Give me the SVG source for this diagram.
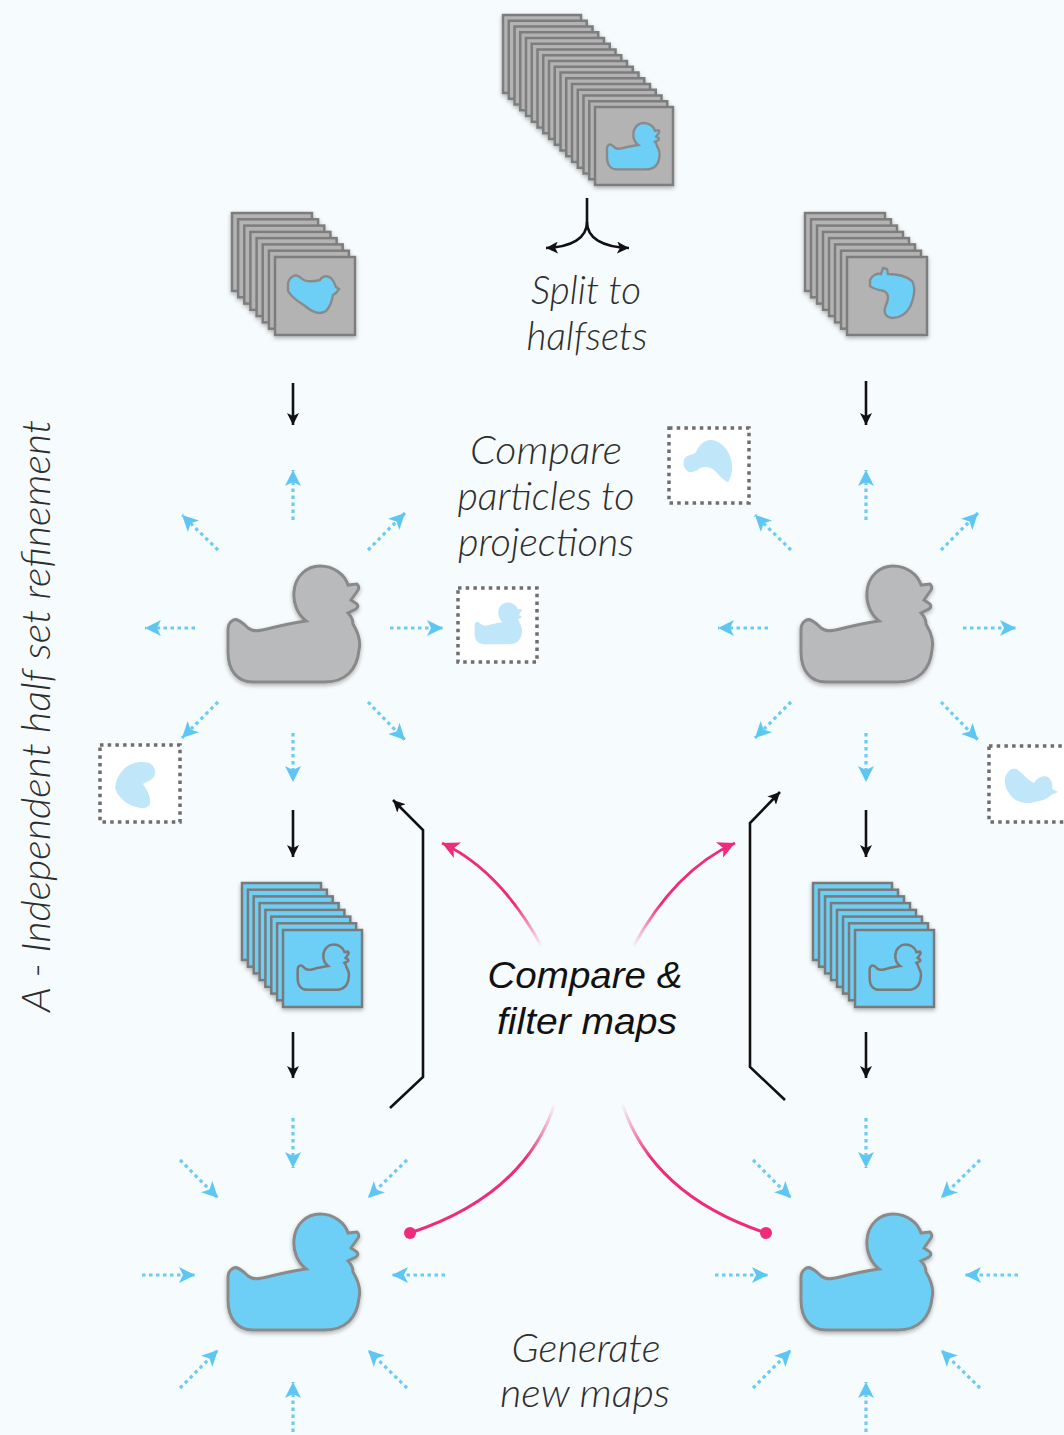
<svg xmlns="http://www.w3.org/2000/svg" xmlns:xlink="http://www.w3.org/1999/xlink" width="1064" height="1435" viewBox="0 0 1064 1435">
  <style>
    .lt { font-family: Lato, "Liberation Sans", sans-serif; font-style: italic; font-weight: 300; font-size: 39px; fill: #2e2e2e; text-anchor: middle; }
    .bd { font-family: "Liberation Sans", Arial, sans-serif; font-style: italic; font-weight: 400; font-size: 37px; fill: #111; text-anchor: middle; }
    .gcard { fill: #b3b3b3; stroke: #7d7d7d; stroke-width: 2.5; }
    .bcard { fill: #6dcff6; stroke: #7a7a7a; stroke-width: 2.5; }
    .proj { fill: #ffffff; stroke: #6e6e6e; stroke-width: 3.5; stroke-dasharray: 3.5 4.2; }
    .blob { fill: #bfe6f9; }
    .dot { fill: none; stroke: #6ccbf3; stroke-width: 3.2; stroke-dasharray: 3.5 3.5; marker-end: url(#bhead); }
    .blk { fill: none; stroke: #111; stroke-width: 2.6; marker-end: url(#khead); }
    .pink { fill: none; stroke-width: 3; }
  </style>
  <defs>
    <!-- rubber duck outline, centred on 0,0, about 130 x 116 -->
    <path id="duck" d="M -61,-5 C -57,-9 -51,-4 -45,2 C -40,6 -34,5 -26,3 C -14,0 -2,-3 13,-5 C 4,-12 0,-24 1,-34 C 2,-50 14,-60 27,-60 C 41,-60 52,-51 55,-41 L 64,-42 Q 67,-39 65,-36 L 58,-26 L 64,-22 Q 66,-19 63,-17 L 55,-13 C 58,-10 60,-6 60,-2 C 66,8 68,16 66,24 C 64,44 52,56 32,56 L -40,56 C -56,56 -65,44 -65,26 L -65,4 C -65,-1 -64,-3 -61,-5 Z"/>
    <rect id="gc" class="gcard" width="78" height="78"/>
    <rect id="gc2" class="gcard" width="80" height="78"/>
    <rect id="bc" class="bcard" width="79" height="77"/>
    <filter id="shadow" x="-20%" y="-20%" width="140%" height="150%">
      <feDropShadow dx="0" dy="2" stdDeviation="2" flood-color="#000" flood-opacity="0.3"/>
    </filter>
    <marker id="bhead" viewBox="0 0 16 16" refX="16" refY="8" markerWidth="16" markerHeight="16" markerUnits="userSpaceOnUse" orient="auto">
      <path d="M0,0 L16,8 L0,16 L4,8 Z" fill="#5ec6f2"/>
    </marker>
    <marker id="khead" viewBox="0 0 12 12" refX="12" refY="6" markerWidth="12" markerHeight="12" markerUnits="userSpaceOnUse" orient="auto">
      <path d="M0,0 L12,6 L0,12 L3,6 Z" fill="#111"/>
    </marker>
    <marker id="phead" viewBox="0 0 16 16" refX="16" refY="8" markerWidth="17" markerHeight="17" markerUnits="userSpaceOnUse" orient="auto">
      <path d="M0,0 L16,8 L0,16 L4,8 Z" fill="#ee2c7c"/>
    </marker>
    <linearGradient id="pg1" gradientUnits="userSpaceOnUse" x1="542" y1="947" x2="442" y2="843">
      <stop offset="0" stop-color="#ee2c7c" stop-opacity="0"/>
      <stop offset="0.35" stop-color="#ee2c7c" stop-opacity="1"/>
    </linearGradient>
    <linearGradient id="pg2" gradientUnits="userSpaceOnUse" x1="633" y1="947" x2="735" y2="843">
      <stop offset="0" stop-color="#ee2c7c" stop-opacity="0"/>
      <stop offset="0.35" stop-color="#ee2c7c" stop-opacity="1"/>
    </linearGradient>
    <linearGradient id="pg3" gradientUnits="userSpaceOnUse" x1="555" y1="1103" x2="410" y2="1233">
      <stop offset="0" stop-color="#ee2c7c" stop-opacity="0"/>
      <stop offset="0.3" stop-color="#ee2c7c" stop-opacity="1"/>
    </linearGradient>
    <linearGradient id="pg4" gradientUnits="userSpaceOnUse" x1="622" y1="1103" x2="766" y2="1233">
      <stop offset="0" stop-color="#ee2c7c" stop-opacity="0"/>
      <stop offset="0.3" stop-color="#ee2c7c" stop-opacity="1"/>
    </linearGradient>
  </defs>

  <rect width="1064" height="1435" fill="#f6fbfd"/>

  <!-- full particle set -->
  <g id="stack-all" filter="url(#shadow)">
    <use href="#gc" x="503" y="15"/><use href="#gc" x="508.75" y="20.75"/><use href="#gc" x="514.5" y="26.5"/>
    <use href="#gc" x="520.25" y="32.25"/><use href="#gc" x="526" y="38"/><use href="#gc" x="531.75" y="43.75"/>
    <use href="#gc" x="537.5" y="49.5"/><use href="#gc" x="543.25" y="55.25"/><use href="#gc" x="549" y="61"/>
    <use href="#gc" x="554.75" y="66.75"/><use href="#gc" x="560.5" y="72.5"/><use href="#gc" x="566.25" y="78.25"/>
    <use href="#gc" x="572" y="84"/><use href="#gc" x="577.75" y="89.75"/><use href="#gc" x="583.5" y="95.5"/>
    <use href="#gc" x="589.25" y="101.25"/><use href="#gc" x="595" y="107"/>
    <use href="#duck" transform="translate(633 147) scale(0.4)" fill="#6dcff6" stroke="#8a8a8a" stroke-width="6"/>
  </g>

  <!-- left half set -->
  <g id="stack-left" filter="url(#shadow)">
    <use href="#gc2" x="232" y="213"/><use href="#gc2" x="238.1" y="219.3"/><use href="#gc2" x="244.3" y="225.6"/>
    <use href="#gc2" x="250.4" y="231.9"/><use href="#gc2" x="256.6" y="238.1"/><use href="#gc2" x="262.7" y="244.4"/>
    <use href="#gc2" x="268.9" y="250.7"/><use href="#gc2" x="275" y="257"/>
    <path d="M288,283 C290,276 296,273 301,278 C305,282 312,282 320,280 C322,276 327,275 331,278 C334,281 335,284 336,287 L339,289 L336,293 L333,295 C332,301 331,306 326,311 C320,315 312,312 305,306 C299,302 292,298 288,291 Z" fill="#6dcff6" stroke="#8a8a8a" stroke-width="2.4"/>
  </g>

  <!-- right half set -->
  <g id="stack-right" filter="url(#shadow)">
    <use href="#gc2" x="805" y="213"/><use href="#gc2" x="811" y="219.3"/><use href="#gc2" x="817" y="225.6"/>
    <use href="#gc2" x="823" y="231.9"/><use href="#gc2" x="829" y="238.1"/><use href="#gc2" x="835" y="244.4"/>
    <use href="#gc2" x="841" y="250.7"/><use href="#gc2" x="847" y="257"/>
    <path d="M870,280 C872,275 877,273 881,274 L883,268 L887,269 L888,274 C896,274 906,276 912,281 C916,288 914,298 910,307 C906,314 899,318 892,318 C885,317 883,312 886,305 C889,298 888,293 884,291 C879,290 873,289 870,286 Z" fill="#6dcff6" stroke="#8a8a8a" stroke-width="2.4"/>
  </g>

  <!-- current reference maps -->
  <g id="map-left" filter="url(#shadow)">
    <use href="#duck" transform="translate(293 626)" fill="#b9babc" stroke="#898989" stroke-width="3"/>
  </g>
  <g id="map-right" filter="url(#shadow)">
    <use href="#duck" transform="translate(866 626)" fill="#b9babc" stroke="#898989" stroke-width="3"/>
  </g>

  <!-- projections -->
  <g id="proj-1">
    <rect class="proj" x="458" y="588" width="79" height="74"/>
    <use href="#duck" class="blob" transform="translate(498 624) scale(0.36)"/>
  </g>
  <g id="proj-2">
    <rect class="proj" x="100" y="745" width="80" height="77"/>
    <path class="blob" d="M115,788 C116,779 120,772 126,767 C133,762 142,761 149,763 C155,766 157,773 153,778 C150,781 145,782 143,784 C147,790 151,797 150,804 C148,809 141,809 133,806 C125,803 118,797 115,788 Z"/>
  </g>
  <g id="proj-3">
    <rect class="proj" x="669" y="428" width="80" height="75"/>
    <path class="blob" d="M685,458 C688,454 693,456 696,452 C699,446 702,441 710,440 C718,440 726,446 730,456 C733,465 733,475 728,482 C724,481 720,476 714,470 C710,467 705,466 700,468 C695,472 690,474 686,470 C683,466 683,461 685,458 Z"/>
  </g>
  <g id="proj-4">
    <rect class="proj" x="989" y="746" width="80" height="76"/>
    <path class="blob" d="M1005,778 C1008,770 1013,767 1018,770 C1024,775 1029,781 1034,783 C1037,778 1043,775 1048,777 C1052,780 1053,785 1052,789 L1058,792 L1051,795 C1047,799 1041,801 1035,802 C1027,804 1019,803 1013,798 C1008,793 1004,786 1005,778 Z"/>
  </g>

  <!-- half maps back-projected into particle images -->
  <g id="stack-maps-left" filter="url(#shadow)">
    <use href="#bc" x="242" y="883"/><use href="#bc" x="247.9" y="889.7"/><use href="#bc" x="253.7" y="896.4"/>
    <use href="#bc" x="259.6" y="903.1"/><use href="#bc" x="265.4" y="909.9"/><use href="#bc" x="271.3" y="916.6"/>
    <use href="#bc" x="277.1" y="923.3"/><use href="#bc" x="283" y="930"/>
    <use href="#duck" transform="translate(323 968) scale(0.39)" fill="none" stroke="#7a7a7a" stroke-width="6.5"/>
  </g>
  <g id="stack-maps-right" filter="url(#shadow)">
    <use href="#bc" x="813" y="883"/><use href="#bc" x="819" y="889.7"/><use href="#bc" x="825" y="896.4"/>
    <use href="#bc" x="831" y="903.1"/><use href="#bc" x="837" y="909.9"/><use href="#bc" x="843" y="916.6"/>
    <use href="#bc" x="849" y="923.3"/><use href="#bc" x="855" y="930"/>
    <use href="#duck" transform="translate(895 968) scale(0.39)" fill="none" stroke="#7a7a7a" stroke-width="6.5"/>
  </g>

  <!-- new maps -->
  <g id="new-map-left" filter="url(#shadow)">
    <use href="#duck" transform="translate(293 1274)" fill="#6dcff6" stroke="#8a8a8a" stroke-width="3"/>
  </g>
  <g id="new-map-right" filter="url(#shadow)">
    <use href="#duck" transform="translate(866 1274)" fill="#6dcff6" stroke="#8a8a8a" stroke-width="3"/>
  </g>

  <!-- labels -->
  <g id="label-split">
    <text class="lt" x="586" y="304" textLength="110" lengthAdjust="spacingAndGlyphs">Split to</text>
    <text class="lt" x="587" y="350" textLength="121" lengthAdjust="spacingAndGlyphs">halfsets</text>
  </g>
  <g id="label-compare">
    <text class="lt" x="546" y="464" textLength="152" lengthAdjust="spacingAndGlyphs">Compare</text>
    <text class="lt" x="546" y="510" textLength="177" lengthAdjust="spacingAndGlyphs">particles to</text>
    <text class="lt" x="546" y="556" textLength="176" lengthAdjust="spacingAndGlyphs">projections</text>
  </g>
  <g id="label-filter">
    <text class="bd" x="585" y="988" textLength="195" lengthAdjust="spacingAndGlyphs">Compare &amp;</text>
    <text class="bd" x="587" y="1034" textLength="180" lengthAdjust="spacingAndGlyphs">filter maps</text>
  </g>
  <g id="label-generate">
    <text class="lt" x="586" y="1362" textLength="149" lengthAdjust="spacingAndGlyphs">Generate</text>
    <text class="lt" x="585" y="1407" textLength="170" lengthAdjust="spacingAndGlyphs">new maps</text>
  </g>
  <g id="label-side">
    <text class="lt" transform="translate(50 1012) rotate(-90)" style="text-anchor:start" textLength="592" lengthAdjust="spacingAndGlyphs">A - Independent half set refinement</text>
  </g>

  <!-- connectors -->
  <g id="connectors">
    <!-- split -->
    <path class="blk" d="M587,198 L587,222 C587,238 572,247 546,248"/>
    <path class="blk" d="M587,222 C587,238 602,247 629,248"/>
    <!-- main flow -->
    <line class="blk" x1="293" y1="383" x2="293" y2="425"/>
    <line class="blk" x1="866" y1="381" x2="866" y2="425"/>
    <line class="blk" x1="293" y1="810" x2="293" y2="857"/>
    <line class="blk" x1="866" y1="810" x2="866" y2="857"/>
    <line class="blk" x1="293" y1="1032" x2="293" y2="1078"/>
    <line class="blk" x1="866" y1="1032" x2="866" y2="1078"/>
    <!-- iteration loops -->
    <path class="blk" d="M390,1108 L423,1077 L423,830 L393,800"/>
    <path class="blk" d="M785,1100 L750,1067 L750,823 L780,792"/>

    <!-- projection rays, left map -->
    <line class="dot" x1="293" y1="520" x2="293" y2="470"/>
    <line class="dot" x1="293" y1="733" x2="293" y2="782"/>
    <line class="dot" x1="195" y1="628" x2="145" y2="628"/>
    <line class="dot" x1="390" y1="628" x2="443" y2="628"/>
    <line class="dot" x1="218" y1="550" x2="182" y2="515"/>
    <line class="dot" x1="368" y1="550" x2="405" y2="513"/>
    <line class="dot" x1="218" y1="702" x2="182" y2="738"/>
    <line class="dot" x1="368" y1="702" x2="405" y2="740"/>
    <!-- projection rays, right map -->
    <line class="dot" x1="866" y1="520" x2="866" y2="470"/>
    <line class="dot" x1="866" y1="733" x2="866" y2="782"/>
    <line class="dot" x1="768" y1="628" x2="718" y2="628"/>
    <line class="dot" x1="963" y1="628" x2="1016" y2="628"/>
    <line class="dot" x1="791" y1="550" x2="755" y2="515"/>
    <line class="dot" x1="941" y1="550" x2="978" y2="513"/>
    <line class="dot" x1="791" y1="702" x2="755" y2="738"/>
    <line class="dot" x1="941" y1="702" x2="978" y2="740"/>
    <!-- reconstruction rays, left new map -->
    <line class="dot" x1="293" y1="1118" x2="293" y2="1168"/>
    <line class="dot" x1="293" y1="1432" x2="293" y2="1382"/>
    <line class="dot" x1="142" y1="1275" x2="195" y2="1275"/>
    <line class="dot" x1="445" y1="1275" x2="392" y2="1275"/>
    <line class="dot" x1="180" y1="1160" x2="218" y2="1198"/>
    <line class="dot" x1="407" y1="1160" x2="368" y2="1198"/>
    <line class="dot" x1="180" y1="1388" x2="218" y2="1350"/>
    <line class="dot" x1="407" y1="1388" x2="368" y2="1350"/>
    <!-- reconstruction rays, right new map -->
    <line class="dot" x1="866" y1="1118" x2="866" y2="1168"/>
    <line class="dot" x1="866" y1="1432" x2="866" y2="1382"/>
    <line class="dot" x1="715" y1="1275" x2="768" y2="1275"/>
    <line class="dot" x1="1018" y1="1275" x2="965" y2="1275"/>
    <line class="dot" x1="753" y1="1160" x2="791" y2="1198"/>
    <line class="dot" x1="980" y1="1160" x2="941" y2="1198"/>
    <line class="dot" x1="753" y1="1388" x2="791" y2="1350"/>
    <line class="dot" x1="980" y1="1388" x2="941" y2="1350"/>

    <!-- map comparison -->
    <path class="pink" stroke="url(#pg1)" marker-end="url(#phead)" d="M542,947 Q500,870 442,843"/>
    <path class="pink" stroke="url(#pg2)" marker-end="url(#phead)" d="M633,947 Q675,870 735,843"/>
    <path class="pink" stroke="url(#pg3)" d="M555,1103 Q525,1195 410,1233"/>
    <path class="pink" stroke="url(#pg4)" d="M622,1103 Q652,1195 766,1233"/>
    <circle cx="410" cy="1233" r="6" fill="#ee2c7c"/>
    <circle cx="766" cy="1233" r="6" fill="#ee2c7c"/>
  </g>
</svg>
